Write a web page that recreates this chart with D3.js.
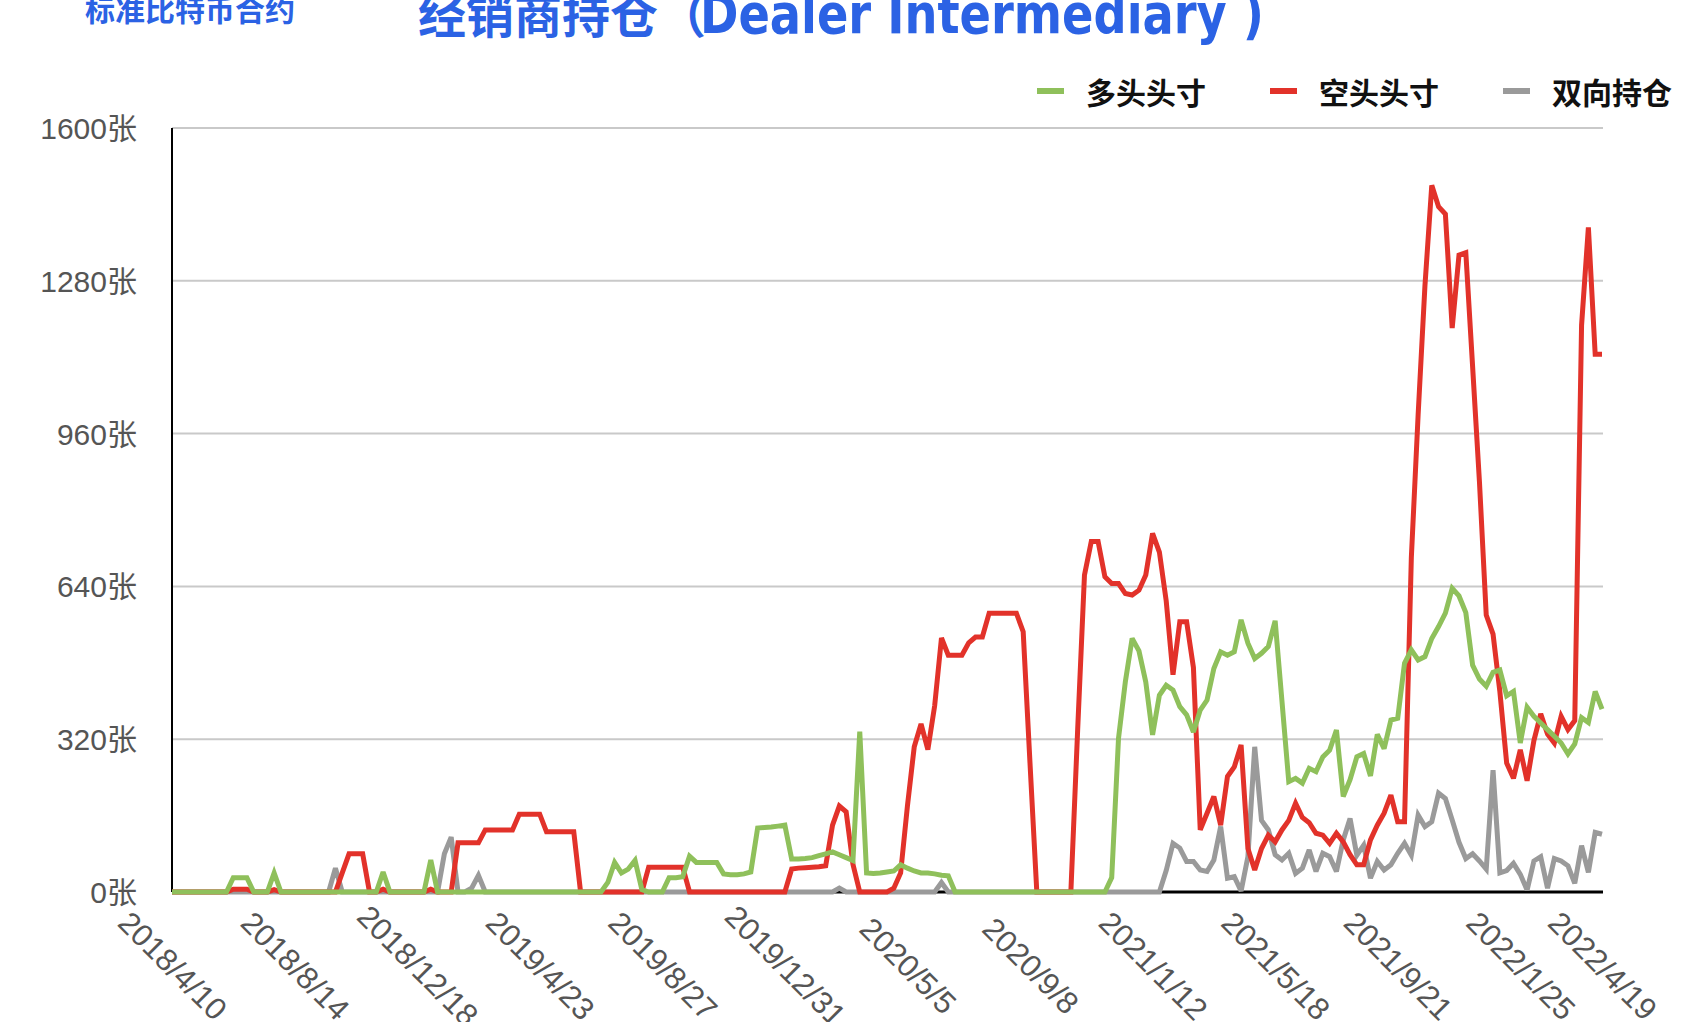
<!DOCTYPE html>
<html>
<head>
<meta charset="utf-8">
<script src="https://cdn.jsdelivr.net/npm/d3@7"></script>
<style>
  html, body { margin: 0; padding: 0; background: #ffffff; }
  svg { display: block; }
</style>
</head>
<body>
<svg id="chart" width="1702" height="1022"></svg>
<script>
// ---------------- DATA ----------------
const startDate = "2018-04-10";   // weekly observations (Tuesdays)
const tickIndex = [0, 18, 36, 54, 72, 90, 108, 126, 144, 162, 180, 198, 210];
const tickLabels = ["2018/4/10", "2018/8/14", "2018/12/18", "2019/4/23", "2019/8/27", "2019/12/31",
  "2020/5/5", "2020/9/8", "2021/1/12", "2021/5/18", "2021/9/21", "2022/1/25", "2022/4/19"];
const yTicks = [0, 320, 640, 960, 1280, 1600];
const seriesNames = ["多头头寸", "空头头寸", "双向持仓"];

// 多头头寸 (long)
const longPos = [
  0,0,0,0,0,0,0,0,0,30, 30,30,0,0,0,40,0,0,0,0,
  0,0,0,0,0,0,0,0,0,0, 0,42,0,0,0,0,0,0,67,0,
  0,0,0,0,0,0,0,0,0,0, 0,0,0,0,0,0,0,0,0,0,
  0,0,0,0,20,62,40,48,66,5, 0,0,0,30,30,32,75,62,62,62,
  62,38,36,36,38,42,134,135,136,138, 140,69,69,70,72,76,80,84,78,72,
  66,336,40,39,40,42,44,57,50,44, 40,40,38,35,34,0,0,0,0,0,
  0,0,0,0,0,0,0,0,0,0, 0,0,0,0,0,0,0,0,30,322,
  440,531,505,440,329,412,433,423,388,371, 335,381,402,468,503,496,503,570,521,489,
  500,514,568,400,231,238,228,259,252,283, 297,339,200,235,283,290,243,330,300,360,
  364,479,507,486,493,531,556,584,636,620, 585,475,446,431,460,465,411,420,312,387,
  368,354,340,326,312,289,310,365,355,420, 383
];

// 空头头寸 (short)
const shortPos = [
  0,0,0,0,0,0,0,0,0,6, 6,6,0,0,0,5,0,0,0,0,
  0,0,0,0,0,40,80,80,80,0, 0,6,0,0,0,0,0,0,6,0,
  0,0,103,103,103,103,130,130,130,130, 130,163,163,163,163,126,126,126,126,126,
  0,0,0,0,0,0,0,0,0,0, 52,52,52,52,52,52,0,0,0,0,
  0,0,0,0,0,0,0,0,0,0, 0,48,50,51,52,53,55,140,180,168,
  58,0,0,0,0,0,8,40,180,304, 352,298,390,532,496,496,496,522,534,534,
  584,584,584,584,584,545,270,0,0,0, 0,0,0,340,664,734,734,660,646,646,
  625,622,632,664,751,712,610,455,566,566, 470,130,165,200,140,242,262,308,91,46,
  91,119,105,130,150,186,156,145,123,119, 102,123,105,78,57,57,109,140,165,203,
  147,147,700,1000,1270,1480,1435,1420,1181,1334, 1339,1100,860,580,540,420,270,238,298,233,
  317,373,331,312,368,340,359,1187,1392,1126, 1126
];

// 双向持仓 (spreading)
const spreadPos = [
  0,0,0,0,0,0,0,0,0,0, 0,0,0,0,0,0,0,0,0,0,
  0,0,0,0,50,0,0,0,0,0, 0,0,0,0,0,0,0,0,0,0,
  80,115,0,0,8,35,0,0,0,0, 0,0,0,0,0,0,0,0,0,0,
  0,0,0,0,0,0,0,0,0,0, 0,0,0,0,0,0,0,0,0,0,
  0,0,0,0,0,0,0,0,0,0, 0,0,0,0,0,0,0,0,8,0,
  0,0,0,0,0,0,0,0,0,0, 0,0,0,20,0,0,0,0,0,0,
  0,0,0,0,0,0,0,0,0,0, 0,0,0,0,0,0,0,0,0,0,
  0,0,0,0,0,0,45,102,92,64, 64,46,43,67,137,29,32,2,74,304,
  150,130,78,67,81,39,50,88,43,81, 74,43,109,154,77,98,29,64,46,57,
  81,102,77,161,137,147,207,196,151,104, 70,80,65,48,255,40,45,60,37,4,
  65,74,8,70,65,55,18,97,41,125, 121
];

// ---------------- CHART ----------------
const colors = ["#8fc05b", "#e2322a", "#9a9a9a"];
const svg = d3.select("#chart");
const W = 1702, H = 1022;
const margin = { left: 172, right: 1702 - 1602, top: 128, bottom: 1022 - 892 };

const start = new Date(startDate + "T00:00:00");
const dates = longPos.map((_, i) => d3.timeDay.offset(start, 7 * i));

const x = d3.scaleLinear().domain([0, longPos.length - 1]).range([margin.left, W - margin.right]);
const y = d3.scaleLinear().domain([0, 1600]).range([H - margin.bottom, margin.top]);

const fontLatin = "Helvetica, Arial, 'Liberation Sans', 'Noto Sans CJK SC', sans-serif";
const fontCJK = "'Noto Sans CJK SC', 'Noto Sans', sans-serif";

// gridlines
svg.append("g").selectAll("line").data(yTicks.filter(d => d > 0)).join("line")
  .attr("x1", x(0)).attr("x2", x(longPos.length - 1) + 1)
  .attr("y1", d => y(d)).attr("y2", d => y(d))
  .attr("stroke", "#c9c9c9").attr("stroke-width", 2);

// y axis labels
const yAxis = d3.axisLeft(y).tickValues(yTicks).tickSize(0).tickPadding(35)
  .tickFormat(d => d + "张");
const gy = svg.append("g").attr("transform", `translate(${margin.left},0)`).call(yAxis);
gy.select(".domain").remove();
gy.selectAll("text").attr("font-family", fontLatin).attr("font-size", 30)
  .attr("fill", "#555555").attr("dy", "0.35em");

// axis lines
svg.append("line").attr("x1", x(0)).attr("x2", x(0)).attr("y1", y(1600)).attr("y2", y(0))
  .attr("stroke", "#000").attr("stroke-width", 2);
svg.append("line").attr("x1", x(0)).attr("x2", x(longPos.length - 1) + 1).attr("y1", y(0)).attr("y2", y(0))
  .attr("stroke", "#000").attr("stroke-width", 3);

// x tick labels
const xAxis = d3.axisBottom(x).tickValues(tickIndex).tickSize(0)
  .tickFormat((d, i) => tickLabels[i]);
const gx = svg.append("g").attr("transform", `translate(0,${y(0)})`).call(xAxis);
gx.select(".domain").remove();
gx.selectAll("text")
  .attr("font-family", fontLatin).attr("font-size", 31).attr("fill", "#555555")
  .attr("text-anchor", "middle").attr("dy", null).attr("y", null)
  .attr("dominant-baseline", "central")
  .attr("transform", "translate(0,74) rotate(45)");

// lines: gray first, then red, green on top
const line = d3.line().x((d, i) => x(i)).y(d => y(d));
const series = [longPos, shortPos, spreadPos];
[2, 1, 0].forEach(k => {
  svg.append("path").datum(series[k])
    .attr("d", line)
    .attr("fill", "none")
    .attr("stroke", colors[k])
    .attr("stroke-width", 5)
    .attr("stroke-linejoin", "miter")
    .attr("stroke-miterlimit", 3);
});

// titles
svg.append("text").attr("x", 85).attr("y", 21)
  .attr("font-family", fontCJK).attr("font-weight", 700).attr("font-size", 30)
  .attr("fill", "#2b62e4").text("标准比特币合约");
svg.append("text").attr("x", 418).attr("y", 33)
  .attr("font-family", fontCJK).attr("font-weight", 700).attr("font-size", 48)
  .attr("fill", "#2b62e4").text("经销商持仓（");
svg.append("text").attr("x", 700).attr("y", 33)
  .attr("font-family", "'DejaVu Sans Condensed', 'DejaVu Sans', sans-serif")
  .attr("font-stretch", "condensed")
  .attr("font-weight", 700).attr("font-size", 56)
  .attr("textLength", 564).attr("lengthAdjust", "spacingAndGlyphs")
  .attr("fill", "#2b62e4").text("Dealer Intermediary )");

// legend
const legendX = [1037, 1270, 1503];
const lg = svg.append("g");
seriesNames.forEach((name, k) => {
  lg.append("line").attr("x1", legendX[k]).attr("x2", legendX[k] + 27)
    .attr("y1", 91).attr("y2", 91).attr("stroke", colors[k]).attr("stroke-width", 6);
  lg.append("text").attr("x", legendX[k] + 49).attr("y", 91)
    .attr("dominant-baseline", "central")
    .attr("font-family", fontCJK).attr("font-weight", 700).attr("font-size", 30)
    .attr("fill", "#111").text(name);
});
</script>
</body>
</html>
